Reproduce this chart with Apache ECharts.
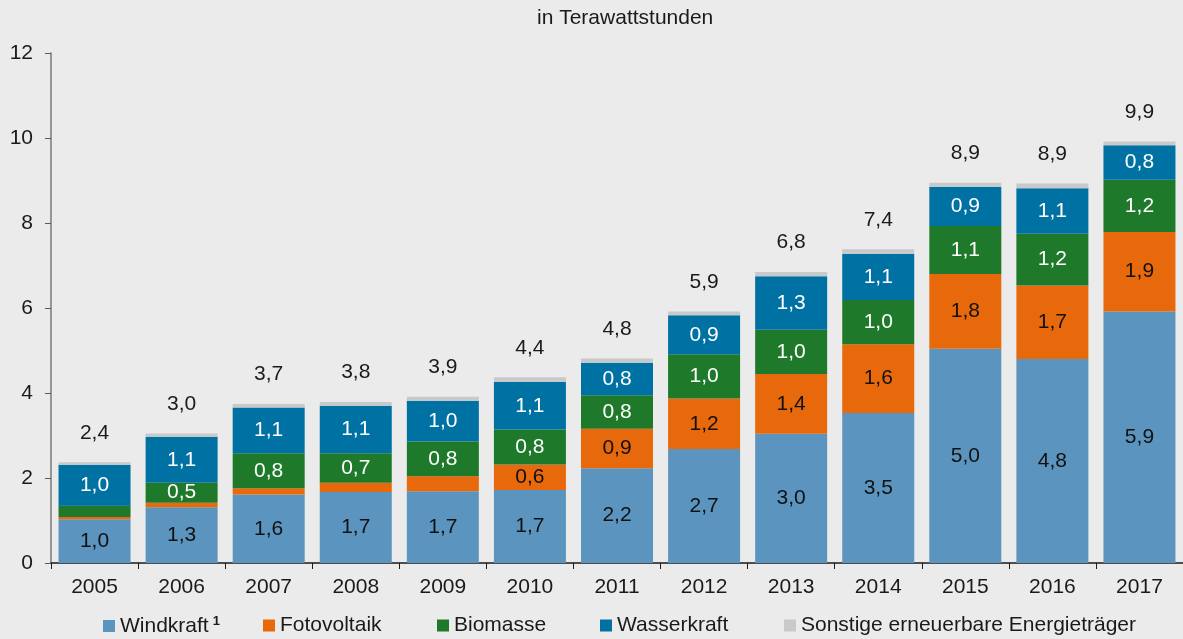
<!DOCTYPE html>
<html>
<head>
<meta charset="utf-8">
<script src="https://cdn.jsdelivr.net/npm/echarts@6/dist/echarts.min.js"></script>
<style>
html,body{margin:0;padding:0;background:#eaebea;}
#chart{width:1183px;height:639px;}
</style>
</head>
<body>
<div id="chart"></div>
<script>
const years = ['2005','2006','2007','2008','2009','2010','2011','2012','2013','2014','2015','2016','2017'];
const windkraft   = [1.03, 1.31, 1.61, 1.67, 1.69, 1.72, 2.23, 2.68, 3.04, 3.53, 5.04, 4.80, 5.92];
const fotovoltaik = [0.05, 0.11, 0.15, 0.22, 0.35, 0.60, 0.93, 1.19, 1.41, 1.62, 1.76, 1.73, 1.87];
const biomasse    = [0.27, 0.47, 0.82, 0.69, 0.82, 0.82, 0.79, 1.04, 1.04, 1.04, 1.13, 1.22, 1.23];
const wasserkraft = [0.96, 1.08, 1.08, 1.12, 0.96, 1.12, 0.76, 0.92, 1.26, 1.08, 0.92, 1.07, 0.81];
const sonstige    = [0.06, 0.08, 0.08, 0.09, 0.09, 0.11, 0.10, 0.09, 0.10, 0.11, 0.10, 0.11, 0.09];
const totals      = ['2,4','3,0','3,7','3,8','3,9','4,4','4,8','5,9','6,8','7,4','8,9','8,9','9,9'];
const yTicks = [0, 2, 4, 6, 8, 10, 12];

const FONT = 'Liberation Sans, Arial, sans-serif';
const FS = 21;
const fmt = v => v.toFixed(1).replace('.', ',');
const segLabel = (color) => ({
  show: true,
  position: 'inside',
  color: color,
  fontSize: FS,
  fontFamily: FONT,
  formatter: p => (p.value >= 0.4 ? fmt(p.value) : '')
});

const chart = echarts.init(document.getElementById('chart'), null, {renderer: 'canvas'});
const legendBase = (name, left) => ({
  data: [name],
  left: left,
  top: 615,
  icon: 'rect',
  itemWidth: 12,
  itemHeight: 12,
  itemGap: 0,
  padding: 0,
  textStyle: {
    fontSize: 21, fontFamily: FONT, color: '#1a1a1a',
    rich: {sup: {fontSize: 13, fontWeight: 'bold', fontFamily: FONT, color: '#1a1a1a', padding: [0, 0, 9, 4]}}
  },
  formatter: n => (n === 'Windkraft' ? 'Windkraft{sup|1}' : n)
});

chart.setOption({
  backgroundColor: '#eaebea',
  animation: false,
  title: {
    text: 'in Terawattstunden',
    left: 537,
    top: 8,
    padding: 0,
    textStyle: {fontSize: 21, fontWeight: 'normal', fontFamily: FONT, color: '#1a1a1a'}
  },
  legend: [
    legendBase('Windkraft', 103),
    legendBase('Fotovoltaik', 263),
    legendBase('Biomasse', 437),
    legendBase('Wasserkraft', 600),
    legendBase('Sonstige erneuerbare Energieträger', 784)
  ],
  grid: {left: 51, right: 0, top: 53, bottom: 76, containLabel: false},
  xAxis: {
    type: 'category',
    data: years,
    axisLine: {lineStyle: {color: '#1a1a1a', width: 1.5}},
    axisTick: {show: true, length: 6, lineStyle: {color: '#1a1a1a'}},
    axisLabel: {fontSize: FS, fontFamily: FONT, color: '#1a1a1a', margin: 14}
  },
  yAxis: {
    type: 'value',
    min: yTicks[0],
    max: yTicks[yTicks.length - 1],
    interval: 2,
    splitLine: {show: false},
    axisLine: {show: true, lineStyle: {color: '#7a7a7a', width: 1.5}},
    axisTick: {show: true, length: 6, lineStyle: {color: '#5a5a5a'}},
    axisLabel: {fontSize: FS, fontFamily: FONT, color: '#1a1a1a', margin: 18}
  },
  series: [
    {name: 'Windkraft', type: 'bar', stack: 't', data: windkraft, barWidth: 72,
     itemStyle: {color: '#5b95bf'}, label: segLabel('#111111')},
    {name: 'Fotovoltaik', type: 'bar', stack: 't', data: fotovoltaik,
     itemStyle: {color: '#e8690b'}, label: segLabel('#111111')},
    {name: 'Biomasse', type: 'bar', stack: 't', data: biomasse,
     itemStyle: {color: '#1e7a2a'}, label: segLabel('#ffffff')},
    {name: 'Wasserkraft', type: 'bar', stack: 't', data: wasserkraft,
     itemStyle: {color: '#0071a3'}, label: segLabel('#ffffff')},
    {name: 'Sonstige erneuerbare Energieträger', type: 'bar', stack: 't', data: sonstige,
     itemStyle: {color: '#c8c9ca'},
     label: {show: true, position: 'top', distance: 19, fontSize: FS, fontFamily: FONT, color: '#1a1a1a',
             formatter: p => totals[p.dataIndex]}}
  ]
});
</script>
</body>
</html>
